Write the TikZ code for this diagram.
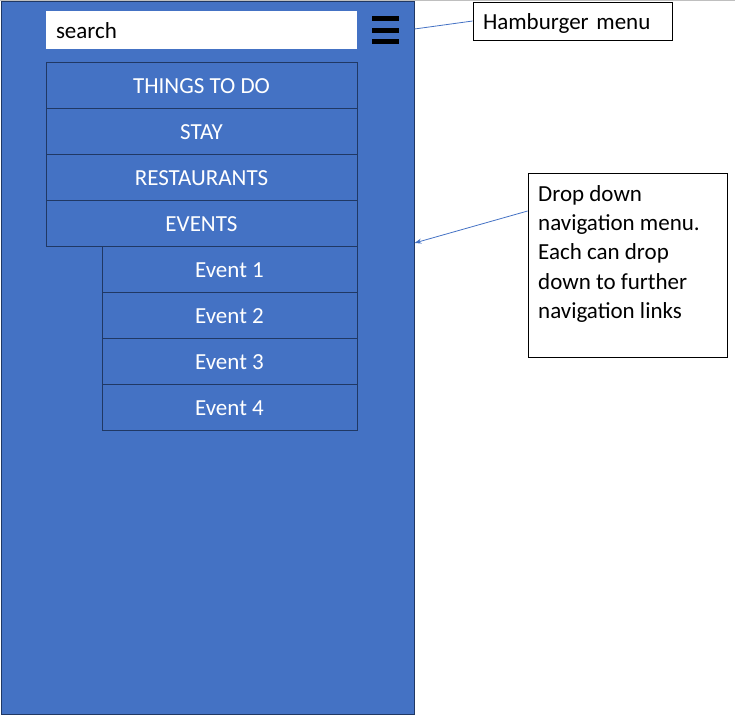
\documentclass[tikz,border=0pt]{standalone}
\usepackage{fontspec}
\setmainfont{Carlito}
\usetikzlibrary{arrows.meta}
\usetikzlibrary{shapes}
\definecolor{phoneblue}{RGB}{68,114,196}
\definecolor{darknavy}{RGB}{32,56,100}

\begin{document}
\begin{tikzpicture}[x=1pt,y=-1pt,
        txt/.style={font=\fontsize{23}{29.3}\selectfont},
        line_txt/.style={txt, text height=21pt, text depth=5pt},
        menu_item/.style={line_txt, draw=darknavy, fill=phoneblue, text=white, minimum width=311pt, minimum height=46pt, inner sep=0pt},
        event_item/.style={menu_item, minimum width=255pt},
        note/.style={draw=black, fill=white, line width=0.8pt, inner sep=0pt},
        note_line/.style={draw=phoneblue, line width=0.8pt}]
        \useasboundingbox (0,0) rectangle (735,721);
        \draw[black!25] (0,0.5) -- (735,0.5);

        \node[draw=darknavy, fill=phoneblue, line width=1pt, minimum width=413pt, minimum height=713pt, inner sep=0pt] (phone) at (207.5,357.5) {};
        \node[line_txt, fill=white, text width=291pt, inner xsep=10pt, inner ysep=0pt, minimum height=38pt, align=left] (search) at (201.5,30) {search};
        \fill[black] (372,16) rectangle (399,21);
        \fill[black] (372,27.5) rectangle (399,32.5);
        \fill[black] (372,39) rectangle (399,44);

        \node[menu_item] (things) at (201.5,85) {THINGS TO DO};
        \node[menu_item] (stay) at (201.5,131) {STAY};
        \node[menu_item] (restaurants) at (201.5,177) {RESTAURANTS};
        \node[menu_item] (events) at (201.5,223) {EVENTS};
        \node[event_item] (event1) at (229.5,269) {Event 1};
        \node[event_item] (event2) at (229.5,315) {Event 2};
        \node[event_item] (event3) at (229.5,361) {Event 3};
        \node[event_item] (event4) at (229.5,407) {Event 4};

        \node[note, line_txt, minimum width=199pt, minimum height=38pt, text width=179pt, inner xsep=10pt, align=left] (ham_note) at (572.5,21) {Hamburger menu};
        \node[note, minimum width=199pt, minimum height=184pt] (drop_box) at (627.5,265) {};
        \node[txt, anchor=north west, inner sep=0pt, align=left] (drop_text) at (538,185) {Drop down\\navigation menu.\\Each can drop\\down to further\\navigation links};

        \coordinate (ham_from) at (phone.east |- 0,29);
        \coordinate (drop_from) at (drop_box.west |- 0,211);
        \coordinate (drop_to) at (phone.east |- 0,243);
        \draw[note_line] (ham_from) -- (ham_note.west);
        \draw[note_line, -{Stealth[length=7pt,width=5pt]}] (drop_from) -- (drop_to);
\end{tikzpicture}
\end{document}
